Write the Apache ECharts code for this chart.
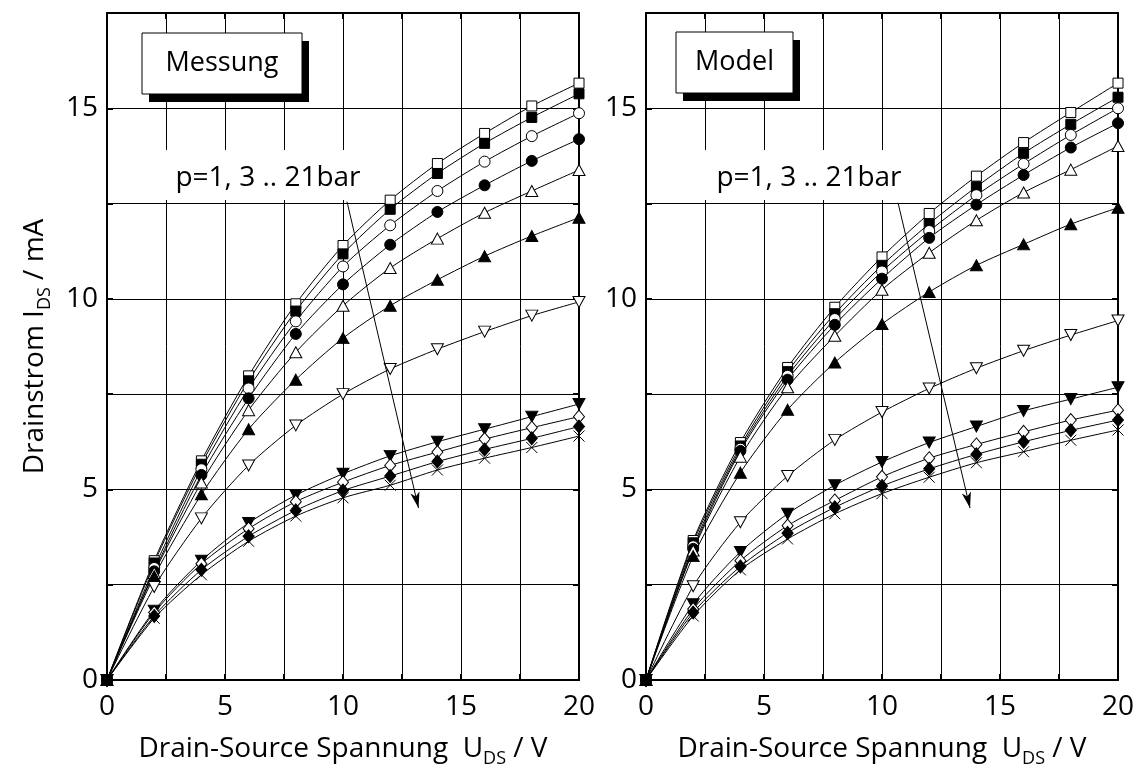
<!DOCTYPE html>
<html><head><meta charset="utf-8">
<script src="https://cdn.jsdelivr.net/npm/echarts@6/dist/echarts.min.js"></script>
<style>html,body{margin:0;padding:0;background:#fff}#c{width:1136px;height:767px}</style>
</head><body><div id="c"></div>
<script>
// ---- data ----
const uds = [0, 2, 4, 6, 8, 10, 12, 14, 16, 18, 20];
const pressures = ['1 bar','3 bar','5 bar','7 bar','9 bar','11 bar','13 bar','15 bar','17 bar','19 bar','21 bar'];
const xTicks = [0, 5, 10, 15, 20];
const yTicks = [0, 5, 10, 15];

// Messung (measurement), I_DS in mA
const mess_p1  = [0, 3.13, 5.75, 7.98, 9.87, 11.40, 12.59, 13.55, 14.34, 15.06, 15.66];
const mess_p3  = [0, 3.07, 5.66, 7.85, 9.68, 11.18, 12.35, 13.29, 14.08, 14.76, 15.38];
const mess_p5  = [0, 2.94, 5.53, 7.65, 9.41, 10.85, 11.93, 12.83, 13.60, 14.27, 14.87];
const mess_p7  = [0, 2.85, 5.38, 7.39, 9.08, 10.38, 11.42, 12.28, 12.98, 13.62, 14.19];
const mess_p9  = [0, 2.81, 5.18, 7.08, 8.60, 9.82, 10.81, 11.58, 12.26, 12.83, 13.38];
const mess_p11 = [0, 2.72, 4.87, 6.58, 7.88, 8.97, 9.82, 10.50, 11.12, 11.65, 12.13];
const mess_p13 = [0, 2.44, 4.24, 5.63, 6.68, 7.50, 8.16, 8.68, 9.14, 9.56, 9.92];
const mess_p15 = [0, 1.82, 3.13, 4.12, 4.85, 5.41, 5.88, 6.25, 6.58, 6.91, 7.24];
const mess_p17 = [0, 1.77, 3.05, 3.97, 4.68, 5.19, 5.63, 5.98, 6.32, 6.62, 6.91];
const mess_p19 = [0, 1.68, 2.89, 3.77, 4.45, 4.97, 5.35, 5.73, 6.05, 6.34, 6.65];
const mess_p21 = [0, 1.62, 2.76, 3.64, 4.30, 4.78, 5.11, 5.51, 5.82, 6.10, 6.40];

// Model, I_DS in mA
const model_p1  = [0, 3.66, 6.23, 8.20, 9.78, 11.10, 12.24, 13.22, 14.10, 14.89, 15.66];
const model_p3  = [0, 3.60, 6.14, 8.09, 9.61, 10.88, 11.97, 12.94, 13.82, 14.58, 15.29];
const model_p5  = [0, 3.51, 6.07, 7.98, 9.47, 10.72, 11.78, 12.72, 13.54, 14.30, 15.00];
const model_p7  = [0, 3.44, 6.01, 7.88, 9.32, 10.53, 11.60, 12.47, 13.25, 13.97, 14.61];
const model_p9  = [0, 3.40, 5.86, 7.68, 9.03, 10.24, 11.21, 12.06, 12.79, 13.39, 14.01];
const model_p11 = [0, 3.25, 5.44, 7.09, 8.33, 9.34, 10.18, 10.88, 11.43, 11.96, 12.39];
const model_p13 = [0, 2.46, 4.14, 5.35, 6.30, 7.03, 7.65, 8.18, 8.64, 9.05, 9.43];
const model_p15 = [0, 1.99, 3.36, 4.36, 5.11, 5.72, 6.23, 6.65, 7.06, 7.37, 7.68];
const model_p17 = [0, 1.86, 3.13, 4.05, 4.71, 5.33, 5.82, 6.18, 6.51, 6.82, 7.08];
const model_p19 = [0, 1.77, 2.98, 3.86, 4.53, 5.09, 5.54, 5.92, 6.25, 6.55, 6.82];
const model_p21 = [0, 1.68, 2.89, 3.70, 4.36, 4.89, 5.32, 5.70, 5.99, 6.29, 6.56];

// arrow annotation endpoints (data coords: U_DS, I_DS)
const arrowMess  = [[10.17, 12.55], [13.2, 4.51]];
const arrowModel = [[10.68, 12.52], [13.73, 4.51]];

const messSeries  = [mess_p1, mess_p3, mess_p5, mess_p7, mess_p9, mess_p11, mess_p13, mess_p15, mess_p17, mess_p19, mess_p21];
const modelSeries = [model_p1, model_p3, model_p5, model_p7, model_p9, model_p11, model_p13, model_p15, model_p17, model_p19, model_p21];

// ---- styles ----
const FONT = '"Open Sans", "DejaVu Sans", sans-serif';
const FS = 28;
const markers = [
  {symbol: 'rect', fill: '#fff', size: 10},
  {symbol: 'rect', fill: '#000', size: 10},
  {symbol: 'circle', fill: '#fff', size: 11},
  {symbol: 'circle', fill: '#000', size: 11},
  {symbol: 'triangle', fill: '#fff', size: [12, 11]},
  {symbol: 'triangle', fill: '#000', size: [12, 11]},
  {symbol: 'triangle', rotate: 180, fill: '#fff', size: [12, 11]},
  {symbol: 'triangle', rotate: 180, fill: '#000', size: [12, 11]},
  {symbol: 'diamond', fill: '#fff', size: [11, 13]},
  {symbol: 'diamond', fill: '#000', size: [11, 13]},
  {symbol: 'path://M0,0L10,10M10,0L0,10', fill: 'none', size: 11}
];

function buildSeries(list, axisIdx, arrow, tag) {
  return list.map((vals, i) => {
    const m = markers[i];
    const s = {
      name: tag + ' ' + pressures[i],
      type: 'line',
      xAxisIndex: axisIdx,
      yAxisIndex: axisIdx,
      data: uds.map((u, k) => [u, vals[k]]),
      smooth: 0.25,
      symbol: m.symbol,
      symbolSize: m.size,
      symbolRotate: m.rotate || 0,
      showSymbol: true,
      lineStyle: {color: '#000', width: 1},
      itemStyle: {color: m.fill, borderColor: '#000', borderWidth: 1},
      emphasis: {disabled: true},
      z: 3
    };
    if (i === 0) {
      s.markLine = {
        silent: true,
        symbol: ['none', 'arrow'],
        symbolSize: [7, 16],
        lineStyle: {color: '#000', width: 1, type: 'solid'},
        label: {show: false},
        data: [[{coord: arrow[0]}, {coord: arrow[1]}]]
      };
    }
    return s;
  });
}

const labelFmt = (ticks) => (v) => (ticks.indexOf(v) >= 0 ? String(v) : '');
const richSub = {sub: {fontSize: 18, fontFamily: FONT, color: '#000', lineHeight: 38, verticalAlign: 'bottom'}};

function xAxisDef(gridIndex, top) {
  return {
    type: 'value', gridIndex, min: 0, max: 20, interval: 2.5,
    position: top ? 'top' : 'bottom',
    axisLine: {show: true, onZero: false, lineStyle: {color: '#000', width: 2}},
    axisTick: {show: true, inside: true, length: 6, lineStyle: {color: '#000', width: 2}},
    splitLine: {show: !top, lineStyle: {color: '#000', width: 1}},
    axisLabel: {show: !top, formatter: labelFmt(xTicks), fontSize: FS, fontFamily: FONT, color: '#000', margin: 13},
    name: top ? '' : 'Drain-Source Spannung  U{sub|DS} / V',
    nameLocation: 'middle', nameGap: 50,
    nameTextStyle: {fontSize: FS, fontFamily: FONT, color: '#000', rich: richSub}
  };
}
function yAxisDef(gridIndex, right, withName) {
  return {
    type: 'value', gridIndex, min: 0, max: 17.5, interval: 2.5,
    position: right ? 'right' : 'left',
    axisLine: {show: true, onZero: false, lineStyle: {color: '#000', width: 2}},
    axisTick: {show: true, inside: true, length: 6, lineStyle: {color: '#000', width: 2}},
    splitLine: {show: !right, lineStyle: {color: '#000', width: 1}},
    axisLabel: {show: !right, formatter: labelFmt(yTicks), fontSize: FS, fontFamily: FONT, color: '#000', margin: 9},
    name: withName ? 'Drainstrom I{sub|DS} / mA' : '',
    nameLocation: 'middle', nameGap: 53, nameRotate: 90,
    nameTextStyle: {fontSize: FS, fontFamily: FONT, color: '#000', rich: richSub}
  };
}

function boxGraphic(x, y, w, h, text) {
  return [
    {type: 'rect', z: 100, shape: {x: x + 7, y: y + 8, width: w, height: h}, style: {fill: '#000'}},
    {type: 'rect', z: 101, shape: {x: x, y: y, width: w, height: h}, style: {fill: '#fff', stroke: '#000', lineWidth: 1}},
    {type: 'text', z: 102, x: x + w / 2, y: y + h / 2, style: {text: text, font: '27px ' + FONT, fill: '#000', align: 'center', verticalAlign: 'middle'}}
  ];
}
function noteGraphic(x, y, w, h, text) {
  return [
    {type: 'rect', z: 100, shape: {x: x, y: y, width: w, height: h}, style: {fill: '#fff'}},
    {type: 'text', z: 102, x: x + w / 2, y: y + h / 2 + 3, style: {text: text, font: FS + 'px ' + FONT, fill: '#000', align: 'center', verticalAlign: 'middle'}}
  ];
}

const chart = echarts.init(document.getElementById('c'), null, {renderer: 'canvas'});
chart.setOption({
  animation: false,
  backgroundColor: '#fff',
  grid: [
    {left: 107, top: 13, width: 472, height: 667, containLabel: false, outerBoundsMode: 'none'},
    {left: 646, top: 13, width: 472, height: 667, containLabel: false, outerBoundsMode: 'none'}
  ],
  xAxis: [xAxisDef(0, false), xAxisDef(1, false), xAxisDef(0, true), xAxisDef(1, true)],
  yAxis: [yAxisDef(0, false, true), yAxisDef(1, false, false), yAxisDef(0, true, false), yAxisDef(1, true, false)],
  series: [].concat(buildSeries(messSeries, 0, arrowMess, 'Messung'), buildSeries(modelSeries, 1, arrowModel, 'Model')),
  graphic: [].concat(
    boxGraphic(142, 33, 160, 61, 'Messung'),
    boxGraphic(676, 32, 117, 61, 'Model'),
    noteGraphic(162, 150, 212, 50, 'p=1, 3 .. 21bar'),
    noteGraphic(701, 150, 216, 50, 'p=1, 3 .. 21bar')
  )
});
</script>
</body></html>
